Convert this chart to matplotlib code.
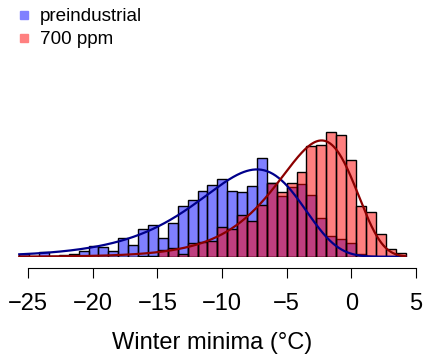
import numpy as np
import matplotlib.pyplot as plt
from matplotlib.lines import Line2D

plt.rcParams['font.family'] = ['Liberation Sans', 'DejaVu Sans']

# --- Data (bar heights) ---
bin_left = -25.68
bin_width = 0.766
preindustrial = [2.7, 0, 4.7, 0.7, 1.3, 2.3, 6, 11, 9.5, 5.8,
                 18.3, 11.7, 28, 31.7, 18.3, 33.3, 50.3, 56.7, 65.3, 72,
                 78, 65.7, 64.3, 70.3, 99, 73.3, 61, 70, 72.5, 61.7,
                 38.3, 20.7, 17.7, 13.3, 2.5, 1, 0, 0, 0]
ppm700 = [0, 0, 0, 0, 0, 0, 0, 0, 0, 0,
          0, 0, 0.5, 1, 7, 8.3, 2.3, 13.3, 14.3, 16,
          29.3, 27.3, 41.8, 35.7, 51.7, 73.5, 64.3, 73.3, 84.3, 110.5,
          112, 125, 121.7, 96.7, 50.7, 44.3, 22.3, 7.3, 3.3]
xticks = [-25, -20, -15, -10, -5, 0, 5]

# fitted extreme-value (Gumbel, minima) curves: location and scale
fit_loc = {'pre': -7.3, 'ppm': -2.3}
fit_scale = {'pre': 4.0, 'ppm': 3.0}

edges = bin_left + bin_width * np.arange(len(preindustrial) + 1)


def gumbel_min_curve(h, loc, scale):
    """Gumbel density for minima, scaled to the histogram area."""
    xs = np.linspace(edges[0], edges[-1], 400)
    z = (xs - loc) / scale
    dens = np.exp(z - np.exp(z)) / scale
    return xs, np.sum(h) * bin_width * dens


W, H = 425, 354
fig = plt.figure(figsize=(W / 100, H / 100), dpi=100)
base_px = 256.7
top_px = 100
ax = fig.add_axes([0, (H - base_px) / H, 1, (base_px - top_px) / H])

ax.bar(edges[:-1], preindustrial, width=bin_width, align='edge',
       color=(0, 0, 1, 0.5), edgecolor='black', linewidth=1)
ax.bar(edges[:-1], ppm700, width=bin_width, align='edge',
       color=(1, 0, 0, 0.5), edgecolor='black', linewidth=1)

bx, by = gumbel_min_curve(preindustrial, fit_loc['pre'], fit_scale['pre'])
ax.plot(bx, by, color='darkblue', lw=1.6)
rx, ry = gumbel_min_curve(ppm700, fit_loc['ppm'], fit_scale['ppm'])
ax.plot(rx, ry, color='darkred', lw=1.6)

px_per_unit = 12.93
zero_px = 351.3
ax.set_xlim(-zero_px / px_per_unit, (W - zero_px) / px_per_unit)
ax.set_ylim(0, base_px - top_px)

for s in ['top', 'right', 'left']:
    ax.spines[s].set_visible(False)
ax.spines['bottom'].set_position(('outward', 8.4))
ax.spines['bottom'].set_bounds(-25, 5)
ax.set_yticks([])
ax.set_xticks(xticks)
ax.set_xticklabels([f"{t}".replace('-', '\u2212') for t in xticks])
ax.tick_params(axis='x', direction='out', length=7.2, width=0.8, labelsize=17, pad=10.5)
ax.set_xlabel('Winter minima (\u00b0C)', fontsize=17, labelpad=12)

handles = [Line2D([], [], ls='none', marker='s', markersize=6, color='#8080ff'),
           Line2D([], [], ls='none', marker='s', markersize=6, color='#ff8080')]
fig.legend(handles, ['preindustrial', '700 ppm'], loc='upper left',
           bbox_to_anchor=(14.5 / W, 1 - 8 / H), frameon=False, fontsize=13.6,
           handlelength=1.0, handletextpad=0.36, labelspacing=0.31, borderpad=0,
           borderaxespad=0)

fig.savefig('out.png', dpi=100)
